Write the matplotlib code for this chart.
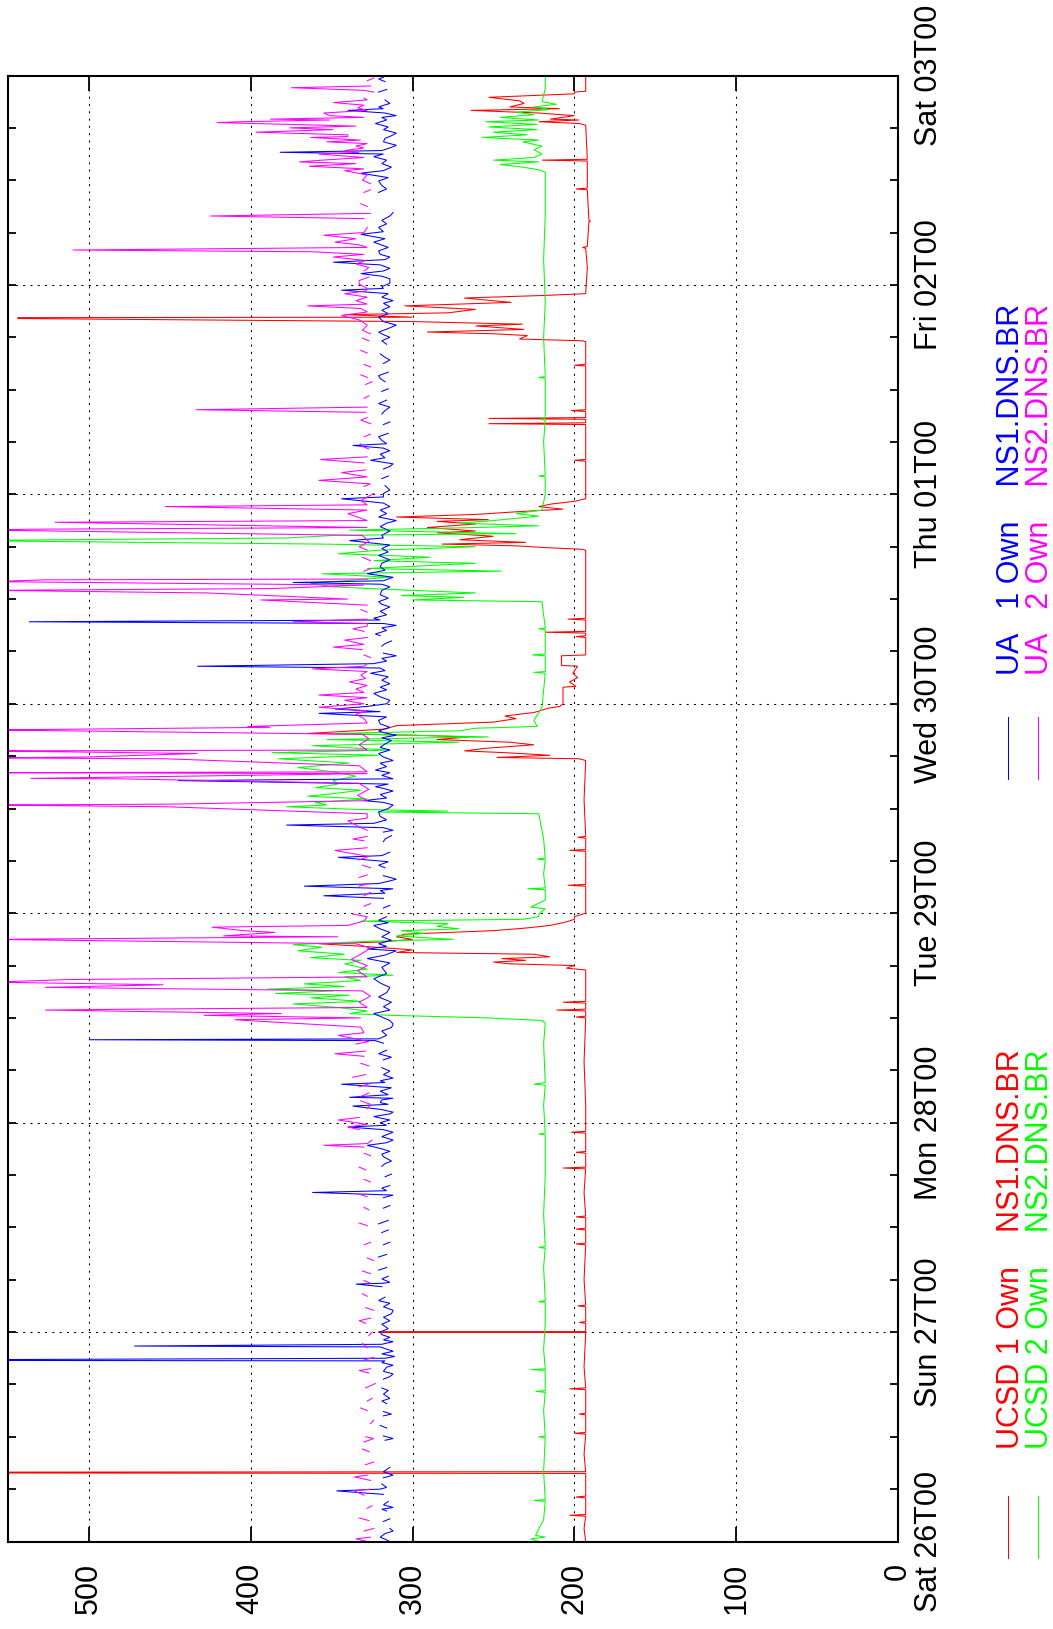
import numpy as np
import matplotlib
matplotlib.use("Agg")
import matplotlib.pyplot as plt
from matplotlib.lines import Line2D

plt.rcParams['font.family'] = ['Liberation Sans', 'DejaVu Sans']

# time axis: hours since Sat 26 00:00, one tick label per day
DAY_HOURS = [0, 24, 48, 72, 96, 120, 144, 168]
DAY_LABELS = ["Sat 26T00", "Sun 27T00", "Mon 28T00", "Tue 29T00",
              "Wed 30T00", "Thu 01T00", "Fri 02T00", "Sat 03T00"]
MS_TICKS = [0, 100, 200, 300, 400, 500]

# UCSD -> NS1.DNS.BR
UCSD1_H = [0, 1.5, 2.9, 3.0, 3.1, 5.0, 5.1, 5.2, 7.8, 7.85, 7.95, 8.0, 10, 12.3, 12.4, 12.5,
           14.5, 14.6, 14.7, 17.4, 17.5, 17.6, 20, 23.95, 23.97, 24.03, 24.05, 25.0, 25.1, 25.2,
           26.9, 27.0, 27.1, 30, 34.0, 34.1, 34.2, 35.7, 35.8, 35.9, 37.1, 37.2, 37.3, 40,
           42.7, 42.8, 42.9, 44.5, 44.6, 44.7, 46.8, 46.9, 47.0, 50, 55, 60.0, 60.1, 60.2,
           60.8, 60.9, 61.0, 61.7, 61.8, 61.9, 65.5, 65.7, 66.0, 66.2, 66.4, 66.6, 66.8, 67.0,
           67.3, 67.5, 67.8, 68.2, 68.5, 68.7, 69.0, 69.3, 69.6, 70.0, 70.3, 70.6, 71.0, 71.3,
           71.6, 72.0, 75.1, 75.2, 75.3, 79.1, 79.2, 79.3, 80.6, 80.7, 80.8, 85, 89.5, 89.7,
           89.85, 90.1, 90.4, 90.6, 90.9, 91.3, 91.6, 91.9, 92.2, 92.4, 92.6, 93.1, 93.5, 93.9,
           94.3, 94.6, 95.0, 95.5, 95.7, 96.0, 97.9, 98.0, 98.5, 99.0, 99.5, 100.3, 100.4, 101.5,
           101.6, 103.6, 103.7, 103.8, 104.1, 104.2, 104.3, 105.6, 105.7, 105.8, 110, 113.6,
           113.7, 113.9, 114.1, 114.3, 114.5, 114.8, 115.2, 115.6, 115.8, 116.2, 116.6, 116.9,
           117.1, 117.4, 117.7, 118.0, 118.3, 118.6, 118.9, 119.2, 119.5, 123.8, 123.9, 124.0,
           128.0, 128.1, 128.2, 128.6, 128.7, 128.8, 129.5, 129.6, 129.7, 134.7, 134.8, 134.9,
           137.5, 137.6, 137.8, 138.2, 138.4, 138.6, 138.9, 139.3, 139.5, 139.8, 140.15, 140.25,
           140.3, 140.6, 140.8, 141.2, 141.6, 142.0, 142.5, 142.8, 143.0, 146, 148.2, 148.3,
           148.4, 151.2, 151.3, 151.4, 154.9, 155.0, 155.1, 158.2, 158.3, 158.4, 162.3, 162.5,
           162.7, 162.9, 163.0, 163.4, 163.7, 164.0, 164.2, 164.4, 164.8, 165.1, 165.5, 165.9,
           166.1, 166.2, 168]
UCSD1_MS = [193, 194, 193, 203, 193, 193, 199, 193, 193, 560, 560, 193, 194, 193, 200, 193,
            193, 197, 193, 193, 203, 193, 194, 193, 321, 321, 193, 193, 197, 193,
            193, 198, 193, 194, 193, 199, 193, 193, 199, 193, 193, 199, 193, 194,
            193, 207, 193, 193, 199, 193, 193, 202, 193, 193, 194, 193, 199, 193,
            193, 211, 193, 193, 207, 193, 193, 205, 200, 240, 250, 230, 245, 215,
            225, 310, 300, 330, 358, 320, 300, 310, 305, 250, 230, 215, 205, 200,
            200, 193, 193, 204, 193, 193, 203, 193, 193, 198, 193, 194, 193, 197,
            248, 215, 243, 268, 255, 225, 240, 285, 265, 300, 365, 317, 310, 250,
            236, 243, 225, 216, 209, 207, 207, 199, 203, 198, 201, 198, 208, 208,
            193, 193, 199, 193, 193, 218, 193, 193, 204, 193, 193, 193,
            195, 218, 236, 282, 230, 271, 250, 285, 261, 291, 261, 285,
            253, 310, 261, 236, 207, 222, 214, 200, 193, 193, 200, 193,
            193, 253, 193, 193, 253, 193, 193, 202, 193, 193, 200, 193,
            193, 195, 234, 229, 250, 291, 231, 261, 232, 300, 544, 544,
            300, 342, 278, 261, 305, 239, 268, 218, 193, 192, 193, 195,
            192, 191, 190, 191, 192, 199, 192, 192, 220, 192, 193, 197,
            222, 197, 215, 200, 222, 264, 209, 240, 231, 234, 253, 200,
            200, 193, 193]

# UCSD -> NS2.DNS.BR
UCSD2_H = [0, 0.3, 0.5, 0.7, 2.5, 4.6, 4.7, 4.8, 8, 11.9, 12.0, 12.1, 15, 17.1, 17.2, 17.3,
           19.6, 19.7, 19.8, 22, 25, 27.4, 27.5, 27.6, 31.5, 33.6, 33.7, 33.8, 37.5, 42, 46.6,
           46.7, 46.8, 50, 52.3, 52.4, 52.6, 57.0, 59.4, 59.7, 60.0, 60.3, 60.5, 60.8, 61.2,
           61.6, 61.9, 62.3, 62.6, 62.8, 63.1, 63.3, 63.6, 63.9, 64.3, 64.7, 64.9, 65.2, 65.6,
           66.2, 66.6, 66.9, 67.3, 67.7, 68.1, 68.4, 68.8, 69.0, 69.4, 69.7, 70.0, 70.2, 70.5,
           70.8, 71.1, 71.3, 71.6, 71.9, 72.5, 72.7, 73.5, 74.7, 74.8, 74.9, 76.5, 78.1, 78.2,
           78.3, 80.5, 83.4, 83.6, 83.7, 83.9, 84.2, 84.4, 84.7, 85.1, 85.4, 85.7, 86.1, 86.4,
           86.8, 87.2, 87.7, 88.2, 88.7, 89.2, 89.7, 90.1, 90.4, 90.7, 91.2, 91.6, 91.9, 92.2,
           92.6, 92.9, 93.2, 93.4, 94.1, 95.0, 95.6, 97.5, 99.5, 99.6, 99.7, 101.5, 101.6,
           101.7, 104.5, 104.6, 104.7, 107.7, 107.9, 108.2, 108.4, 108.7, 109.0, 109.4, 109.8,
           110.1, 110.5, 110.9, 111.2, 111.5, 112.1, 112.4, 112.8, 113.2, 113.6, 114.0, 114.3,
           114.65, 114.75, 115.0, 115.3, 115.5, 115.9, 116.2, 116.4, 116.7, 117.0, 117.5, 117.8,
           118.2, 120, 122.0, 122.1, 122.2, 126, 128.5, 128.6, 128.7, 133.3, 133.4, 133.5, 138,
           142, 147, 152, 156.9, 157.2, 157.5, 157.8, 158.1, 158.3, 158.6, 159.0, 159.5, 159.9,
           160.4, 160.6, 160.9, 161.2, 161.5, 161.8, 162.1, 162.4, 162.7, 162.9, 163.2, 163.5,
           163.8, 164.1, 164.4, 164.7, 165.0, 166.5, 168]
UCSD2_MS = [222, 227, 218, 224, 219, 218, 225, 218, 219, 218, 222, 218, 219, 218, 224, 218,
            218, 227, 218, 219, 218, 218, 222, 218, 219, 218, 222, 218, 219, 218, 218,
            222, 218, 219, 218, 225, 218, 219, 218, 220, 253, 314, 339, 328, 346,
            374, 332, 363, 339, 385, 348, 390, 342, 367, 332, 342, 312, 346, 328,
            342, 332, 363, 342, 371, 356, 374, 324, 275, 310, 293, 307, 271, 285,
            278, 332, 232, 222, 222, 218, 227, 218, 218, 229, 218, 219, 218, 223,
            218, 219, 222, 321, 278, 335, 378, 353, 360, 328, 365, 349, 332, 360,
            346, 349, 335, 349, 371, 339, 383, 321, 387, 314, 362, 271, 353, 253,
            349, 271, 261, 223, 225, 222, 220, 219, 218, 225, 218, 218, 226,
            218, 218, 222, 218, 220, 300, 268, 307, 261, 300, 349, 363,
            342, 314, 356, 245, 328, 261, 324, 289, 346, 321, 261, 356,
            550, 550, 378, 348, 236, 339, 261, 222, 271, 250, 222, 236,
            220, 218, 218, 222, 218, 219, 218, 221, 218, 218, 222, 218, 219,
            218, 219, 218, 218, 222, 232, 246, 222, 250, 225, 220, 225, 220,
            232, 222, 257, 229, 250, 223, 253, 223, 255, 222, 246, 225,
            236, 215, 225, 211, 220, 218, 218]

# UA -> NS1.DNS.BR as (hour, ms) pairs; None marks a gap in the samples
UA1 = [
    (0.1, 315), (0.5, 320), (0.9, 317), (1.2, 312), (1.5, 314), None,
    (2.3, 318), (2.6, 314), None,
    (3.5, 316), (3.7, 319), (3.9, 312), (4.2, 318), (4.6, 315), None,
    (5.4, 318), (5.8, 347), (6.0, 320), (6.2, 316), (6.6, 319), None,
    (7.3, 318), (7.6, 312), (8.0, 318), (8.5, 314), None,
    (11.6, 317), (11.8, 312), (12.1, 318), None,
    (13.0, 316), (13.3, 320), None,
    (14.4, 318), (14.6, 313), (14.9, 318), None,
    (15.8, 316), (16.1, 319), (16.4, 314), (16.9, 318), (17.3, 315), (17.6, 319), None,
    (18.6, 318), (18.9, 314), (19.2, 312), (19.5, 318), (19.98, 316), (20.2, 312),
    (20.5, 319), (20.7, 317), (20.75, 560), (20.85, 560), (21.0, 317), (21.2, 311),
    (21.5, 319), (21.8, 312), (22.1, 317), (22.3, 320), (22.4, 472), (22.6, 319),
    (22.9, 312), (23.1, 318), (23.4, 314), (23.7, 319), (24.0, 320), (24.4, 315),
    (24.9, 319), (25.3, 314), (25.7, 318), (26.1, 313), (26.5, 312), (26.9, 318),
    (27.3, 314), (27.6, 321), (28.0, 317), None,
    (29.2, 319), (29.5, 335), (29.6, 318), (29.7, 314), (30.1, 319), (30.4, 315), None,
    (31.1, 321), (31.4, 316), None,
    (32.6, 321), (32.9, 316), None,
    (34.0, 318), (34.3, 314), None,
    (35.4, 319), (35.7, 315), None,
    (36.4, 321), (36.8, 315), None,
    (38.2, 318), (38.5, 314), None,
    (39.4, 318), (39.7, 312), (40.0, 362), (40.2, 316), (40.5, 319), (40.8, 314), None,
    (41.8, 317), (42.1, 313), None,
    (43.0, 319), (43.3, 317), (43.6, 313), (44.1, 318), (44.4, 319), (44.7, 314),
    (45.0, 319), (45.4, 328), (45.7, 316), (46.0, 312), (46.4, 319), (46.9, 312),
    (47.2, 318), (47.5, 340), (47.7, 316), (48.0, 320), (48.3, 314), (48.5, 319),
    (48.7, 324), (49.0, 314), (49.2, 312), (49.5, 319), (49.9, 337), (50.1, 315),
    (50.3, 320), (50.6, 319), (50.8, 312), (50.9, 339), (51.2, 315), (51.6, 320),
    (52.0, 313), (52.4, 344), (52.6, 317), (52.8, 320), (53.1, 312), (53.5, 318),
    (53.9, 314), (54.3, 319), None,
    (55.2, 318), (55.5, 313), (55.9, 321), (56.3, 316), None,
    (57.1, 318), (57.4, 323), (57.5, 500), (57.6, 321), (58.0, 316), (58.5, 319),
    (58.9, 313), (59.3, 312), (59.7, 314), (60.1, 319), (60.5, 324), (60.9, 314),
    (61.3, 318), (61.8, 313), (62.4, 321), (62.9, 316), (63.5, 314), (64.0, 320),
    (64.5, 324), (65.1, 316), (65.8, 319), (66.3, 314), (66.8, 328), (67.2, 317),
    (67.7, 310), (67.9, 328), (68.2, 316), (68.5, 321), (68.9, 313), (69.3, 319),
    (69.8, 314), (70.2, 320), (70.6, 324), (70.9, 315), (71.2, 321), (71.6, 316), None,
    (72.6, 318), (72.9, 314), None,
    (73.7, 318), (74.0, 355), (74.3, 317), (74.6, 320), (74.8, 312), (75.1, 367),
    (75.4, 321), (75.7, 314), (75.9, 310), (76.3, 318), None,
    (77.2, 317), (77.5, 321), (77.9, 315), (78.4, 346), (78.6, 319), (79.0, 314), None,
    (80.2, 318), (80.5, 317), (80.9, 313), None,
    (81.3, 318), (81.5, 312), (81.8, 318), (82.1, 378), (82.3, 324), (82.7, 316),
    (83.1, 320), (83.6, 321), (84.0, 315), (84.4, 312), (84.7, 318), (84.9, 330),
    (85.2, 316), (85.6, 320), (86.0, 312), (86.3, 318), (86.5, 323), (86.8, 315),
    (87.2, 445), (87.4, 312), (87.8, 319), (88.1, 314), (88.4, 323), (88.8, 316),
    (89.2, 320), (89.5, 312), (89.9, 318), (90.3, 321), (90.7, 314), (91.0, 320),
    (91.4, 317), (91.8, 313), (92.1, 319), (92.4, 310), (92.7, 318), (92.9, 321),
    (93.3, 314), (93.7, 320), (94.1, 321), (94.5, 316), (94.9, 358), (95.1, 320),
    (95.4, 348), (95.7, 328), (96.0, 316), (96.4, 314), (96.8, 320), (97.2, 324),
    (97.6, 316), (97.9, 320), (98.3, 314), (98.7, 319), (99.1, 315), (99.5, 326),
    (99.8, 317), (100.1, 320), (100.3, 433), (100.6, 324), (100.9, 316), (101.2, 319),
    (101.5, 310), (101.8, 318), None,
    (102.6, 319), (102.9, 317), (103.2, 313), None,
    (103.8, 320), (104.0, 323), (104.4, 316), (104.7, 319), (104.98, 310), (105.2, 318),
    (105.4, 537), (105.6, 320), (105.8, 324), (106.2, 316), (106.6, 320), (107.1, 314),
    (107.4, 319), (107.7, 321), (108.1, 315), (108.5, 320), (109.0, 319), (109.4, 314),
    (109.7, 319), (109.9, 374), (110.1, 318), (110.5, 312), (110.9, 328), (111.3, 317),
    (111.7, 320), (112.1, 319), (112.5, 314), (113.0, 321), (113.4, 315), (113.8, 319),
    (114.2, 314), (114.7, 339), (115.0, 318), (115.3, 319), (115.8, 314), (116.3, 320),
    (116.7, 316), (117.0, 310), (117.4, 321), (117.8, 316), (118.2, 320), (118.6, 314),
    (119.0, 318), (119.5, 344), (119.7, 318), (120.1, 318), (120.5, 314), (121.0, 317), None,
    (121.8, 319), (122.1, 315), None,
    (122.9, 318), (123.2, 314), (123.5, 312), (123.9, 326), (124.2, 317), (124.6, 320),
    (125.0, 314), (125.3, 318), (125.6, 337), (125.8, 316), (126.2, 319), (126.6, 321),
    (127.0, 315), None,
    (128.0, 318), (128.3, 314), None,
    (129.2, 319), (129.6, 317), (130.0, 314), (130.4, 321), (130.8, 316), None,
    (131.8, 319), (132.1, 315), None,
    (132.9, 317), (133.3, 320), (133.6, 321), (134.0, 315), None,
    (135.0, 318), (135.4, 314), (135.7, 317), (136.1, 320), None,
    (137.2, 316), (137.6, 319), (138.0, 314), (138.3, 318), (138.6, 321), (139.0, 315),
    (139.4, 310), (139.8, 318), (140.3, 321), (140.7, 315), (141.1, 319), (141.5, 314),
    (141.9, 318), (142.2, 312), (142.6, 319), (143.0, 315), (143.4, 344), (143.6, 318),
    (143.8, 319), (144.2, 314), (144.7, 314), (145.0, 319), (145.3, 332), (145.6, 318),
    (145.9, 314), (146.3, 320), (146.6, 349), (146.9, 317), (147.2, 314), (147.5, 320),
    (147.9, 321), (148.3, 315), (148.9, 324), (149.3, 317), (149.8, 332), (150.1, 318),
    (150.6, 321), (151.0, 316), (151.4, 319), (151.9, 314), (152.3, 312), None,
    (154.6, 321), (155.0, 316), (155.4, 319), (155.9, 321), (156.3, 315), (156.8, 332),
    (157.1, 318), (157.5, 313), (157.9, 319), (158.3, 316), (158.7, 324), (159.0, 318),
    (159.2, 382), (159.4, 319), (159.7, 314), (160.0, 310), (160.4, 318), (160.8, 317),
    (161.1, 313), (161.4, 310), (161.8, 318), (162.1, 315), (162.5, 323), (162.9, 316),
    (163.2, 319), (163.4, 310), (163.7, 317), (164.0, 340), (164.2, 318), (164.4, 321),
    (164.8, 314), (165.2, 317), None,
    (166.1, 321), (166.4, 316), None,
    (167.3, 317), (167.6, 321), (167.8, 318),
]

# UA -> NS2.DNS.BR as (hour, ms) pairs; None marks a gap in the samples
UA2 = [
    (0.0, 328), (0.3, 335), (0.5, 326), None,
    (1.2, 330), (1.5, 324), None,
    (2.4, 327), (2.7, 333), None,
    (3.8, 328), (4.1, 325), None,
    (5.3, 330), (5.8, 336), (6.0, 326), None,
    (7.0, 326), (7.4, 336), (7.6, 328), None,
    (8.8, 329), (9.1, 324), None,
    (10.3, 327), (10.6, 331), None,
    (11.4, 330), (11.8, 324), (12.0, 329), None,
    (13.5, 326), (13.9, 324), None,
    (15.0, 328), (15.3, 332), None,
    (16.1, 328), (16.4, 325), None,
    (17.6, 329), (18.1, 323), None,
    (19.3, 327), (19.6, 333), (19.8, 326), None,
    (20.8, 330), (21.1, 324), None,
    (22.2, 328), (22.7, 331), None,
    (23.6, 327), (24.0, 325), None,
    (25.0, 329), (25.3, 333), (25.6, 326), None,
    (26.5, 324), (26.8, 329), None,
    (28.1, 328), (28.4, 331), None,
    (29.6, 326), (29.9, 330), None,
    (30.7, 326), (31.0, 331), None,
    (32.2, 324), (32.5, 328), None,
    (34.0, 330), (34.3, 326), None,
    (36.2, 328), (36.5, 333), None,
    (38.0, 327), (38.3, 330), None,
    (39.5, 328), (39.8, 333), None,
    (41.2, 326), (41.5, 330), None,
    (42.6, 329), (42.9, 333), None,
    (44.2, 326), (44.5, 330), None,
    (45.2, 330), (45.4, 355), (45.6, 328), (46.0, 325), None,
    (47.2, 333), (47.5, 340), (47.8, 328), (48.3, 346), (48.6, 333), None,
    (49.6, 328), (50.1, 326), (50.5, 332), None,
    (51.0, 332), (51.4, 327), None,
    (52.1, 333), (52.5, 326), None,
    (53.2, 337), (53.5, 329), None,
    (54.5, 327), (54.8, 332), None,
    (55.6, 330), (55.9, 348), (56.2, 329), None,
    (57.0, 335), (57.3, 327), (58.0, 346), (58.3, 330), (58.95, 332), (59.7, 402),
    (59.8, 410), (60.0, 332), (60.3, 429), (60.5, 381), (60.9, 527), (61.0, 474),
    (61.2, 328), (61.8, 333), (62.5, 326), (63.1, 331), (63.5, 527), (63.8, 454),
    (64.1, 560), (64.4, 512), (64.7, 328), (65.4, 334), (66.0, 328), (66.7, 338),
    (67.3, 332), (68.0, 326), (68.5, 335), (69.0, 560), (69.3, 346), (69.4, 417),
    (69.8, 385), (70.0, 404), (70.4, 424), (70.6, 340), (71.1, 330), (71.6, 328),
    (71.9, 337), None,
    (72.8, 330), (73.1, 326), None,
    (74.0, 330), (74.4, 326), None,
    (75.1, 333), (75.4, 327), None,
    (76.1, 333), (76.4, 328), None,
    (77.2, 326), (77.5, 331), None,
    (78.1, 333), (78.5, 327), (79.2, 348), (79.5, 328), None,
    (80.3, 330), (80.5, 337), (80.8, 328), None,
    (81.5, 328), (81.9, 333), (82.6, 340), (82.9, 328), (83.4, 328), (84.2, 452),
    (84.4, 560), (84.5, 449), (84.9, 328), (85.5, 334), (86.2, 327), (86.9, 333),
    (87.4, 482), (87.45, 536), (88.0, 328), (88.1, 560), (88.2, 328), (88.9, 333),
    (89.7, 453), (89.8, 560), (89.9, 502), (90.3, 433), (90.6, 560), (90.7, 328),
    (91.3, 333), (92.0, 327), (92.5, 331), (93.0, 560), (93.3, 388), (93.4, 402),
    (93.8, 328), (94.3, 330), (94.8, 335), (95.2, 328), (95.6, 358), (96.0, 330),
    (96.4, 342), (96.7, 328), (97.0, 358), (97.3, 330), (97.7, 335), (98.1, 328),
    (98.5, 339), (98.9, 329), (99.3, 332), (99.7, 328), (100.0, 362), (100.3, 330),
    (100.6, 328), None,
    (101.3, 326), (101.6, 330), None,
    (102.2, 331), (102.5, 349), (102.8, 330), (103.3, 342), (103.6, 328), None,
    (104.3, 330), (104.6, 337), (104.9, 328), (105.2, 328), (105.4, 374), (105.7, 328), None,
    (106.5, 328), (106.8, 332), None,
    (107.3, 328), (107.9, 394), (108.0, 340), (108.4, 388), (108.7, 427), (109.0, 560),
    (109.2, 388), (109.6, 330), (110.0, 560), (110.2, 528), (110.3, 328), None,
    (111.2, 330), (111.5, 326), None,
    (112.4, 326), (112.8, 331), None,
    (113.6, 328), (114.0, 333), (114.6, 327), (115.3, 331), (115.9, 560), (116.0, 540),
    (116.2, 328), (116.8, 521), (117.0, 328), (117.4, 334), (117.8, 340), (118.2, 328),
    (118.6, 453), (118.8, 328), (119.3, 332), (119.8, 327), (120.1, 324), None,
    (120.9, 330), (121.2, 326), (121.6, 358), (122.0, 328), (122.5, 344), (122.8, 329), None,
    (123.6, 330), (124.0, 357), (124.3, 328), None,
    (125.2, 327), (125.5, 331), (125.8, 332), None,
    (126.6, 330), (126.9, 326), None,
    (128.1, 326), (128.5, 332), (128.8, 328), None,
    (129.4, 329), (129.7, 434), (130.0, 328), None,
    (131.0, 330), (131.3, 327), None,
    (132.6, 329), (132.9, 325), None,
    (133.4, 328), (133.7, 332), None,
    (134.6, 326), (134.9, 330), None,
    (136.2, 328), (136.5, 332), None,
    (137.6, 327), (137.9, 331), None,
    (138.4, 326), (138.8, 331), (139.4, 328), (140.0, 333), (140.5, 344), (140.9, 328),
    (141.3, 332), (141.6, 365), (141.8, 328), (142.2, 335), (142.6, 328), (143.0, 342),
    (143.3, 329), (143.6, 328), (144.1, 333), (144.5, 333), (144.9, 327), None,
    (145.6, 330), (146.0, 327), (146.4, 335), (146.8, 329), (147.2, 349), (147.5, 330),
    (147.8, 362), (148.0, 510), (148.3, 328), (148.6, 333), (148.9, 348), (149.3, 335),
    (149.7, 355), (150.0, 330), (150.6, 328), None,
    (151.6, 330), (151.9, 425), (152.2, 326), None,
    (153.0, 328), (153.3, 332), None,
    (154.6, 330), (154.9, 326), None,
    (155.6, 326), (156.0, 331), (156.6, 328), (157.1, 342), (157.3, 330), (157.6, 364),
    (157.9, 335), (158.1, 370), (158.3, 356), (158.6, 330), (159.0, 358), (159.2, 333),
    (159.4, 342), (159.7, 330), (159.9, 335), (160.2, 328), (160.4, 353), (160.6, 332),
    (160.9, 363), (161.0, 340), (161.2, 340), (161.5, 397), (161.8, 349), (162.0, 376),
    (162.2, 335), (162.3, 355), (162.6, 421), (162.7, 407), (162.9, 351), (163.0, 388),
    (163.2, 330), (163.4, 351), (163.7, 355), (164.0, 328), (164.3, 334), (164.6, 330),
    (164.9, 349), (165.2, 328), (165.4, 330), None,
    (166.1, 324), (166.3, 330), (166.6, 375), (166.8, 326), None,
    (167.4, 328), (167.7, 324),
]


def split_pairs(pairs):
    arr = np.array([(np.nan, np.nan) if p is None else p for p in pairs], dtype=float)
    return arr[:, 0], arr[:, 1]


UA1_H, UA1_MS = split_pairs(UA1)
UA2_H, UA2_MS = split_pairs(UA2)

SERIES = [
    (UCSD1_H, UCSD1_MS, "#ff0000", "UCSD 1 Own    NS1.DNS.BR"),
    (UCSD2_H, UCSD2_MS, "#00ff00", "UCSD 2 Own    NS2.DNS.BR"),
    (UA1_H, UA1_MS, "#0000ff", "UA   1 Own    NS1.DNS.BR"),
    (UA2_H, UA2_MS, "#ff00ff", "UA   2 Own    NS2.DNS.BR"),
]

W, H = 1053, 1629
fig = plt.figure(figsize=(W / 100, H / 100), dpi=100)
# the plot is laid out sideways: latency runs right-to-left, time runs upward
ax = fig.add_axes([8 / W, 87.5 / H, 890 / W, 1466 / H])

for hours, ms, color, _ in SERIES:
    ax.plot(ms, hours, color=color, lw=0.75, solid_joinstyle="miter")

ax.set_xlim(550, 0)
ax.set_ylim(0, 168)

ax.set_xticks(MS_TICKS)
ax.set_xticklabels([str(v) for v in MS_TICKS], rotation=90)
ax.set_yticks(DAY_HOURS)
ax.set_yticklabels(DAY_LABELS, rotation=90, va="center")
ax.set_yticks(np.arange(0, 169, 6), minor=True)

ax.tick_params(axis="x", which="major", direction="in", length=11, width=1.3,
               top=True, bottom=True, labelsize=22, pad=15.5)
ax.tick_params(axis="y", which="both", direction="in", length=5.5, width=1.3,
               left=True, right=True, labelleft=False, labelright=True,
               labelsize=22, pad=11.5)

ax.grid(True, which="major", color="black", lw=0.75, linestyle=(0, (2, 5)))
for sp in ax.spines.values():
    sp.set_linewidth(1.5)


# key, drawn sideways to the right of the time labels
def fx(px):
    return px / W


def fy(py):
    return (H - py) / H


key_rows = [
    (SERIES[0], 1008, 1019, 1558, 1449),
    (SERIES[1], 1038, 1048, 1558, 1449),
    (SERIES[2], 1008, 1019, 779, 675),
    (SERIES[3], 1038, 1048, 779, 675),
]
for (_, _, color, label), xline, xbase, ybot, ytext in key_rows:
    fig.add_artist(Line2D([fx(xline), fx(xline)], [fy(ybot), fy(ybot - 62)],
                          color=color, lw=0.75))
    fig.text(fx(xbase), fy(ytext), label, color=color, fontsize=22,
             rotation=90, rotation_mode="anchor", ha="left", va="baseline")

fig.savefig("out.png", dpi=100, facecolor="white")
